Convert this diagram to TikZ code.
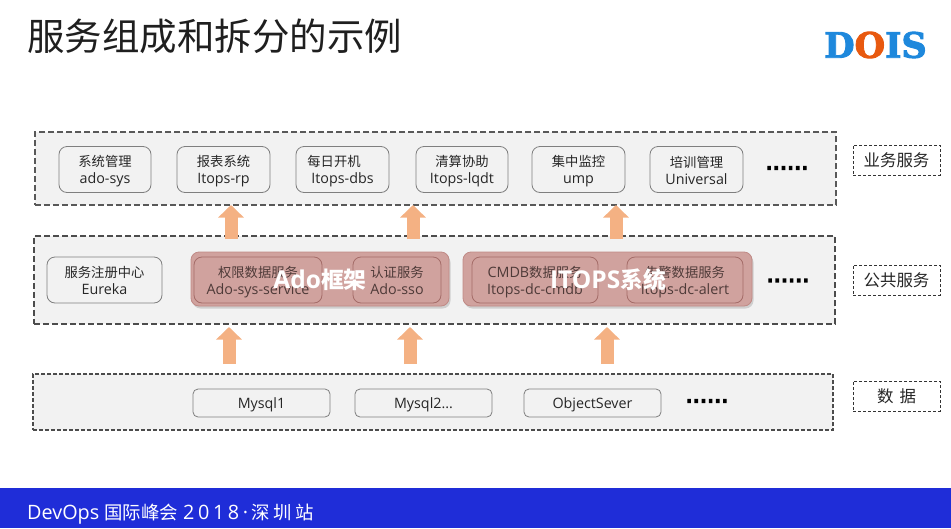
\documentclass[tikz,border=0pt]{standalone}
\usepackage{fontspec}
\setmainfont{Open Sans}
\newfontfamily\cjk[Scale=0.93]{Noto Sans CJK SC}
\newfontfamily\dotsfont[RawFeature={embolden=6}]{DejaVu Sans}
\newfontfamily\logofont[RawFeature={embolden=2.5}]{DejaVu Serif}
\usetikzlibrary{arrows.meta,shadows}
\definecolor{layerfill}{HTML}{F2F2F2}
\definecolor{layerline}{HTML}{595959}
\definecolor{boxline}{HTML}{7F7F7F}
\definecolor{groupfill}{HTML}{D0A29E}
\definecolor{groupline}{HTML}{C08A86}
\definecolor{innerline}{HTML}{A46C68}
\definecolor{innertext}{HTML}{4E3A38}
\definecolor{arrowfill}{HTML}{F4B183}
\definecolor{footerblue}{HTML}{1F2DD8}
\definecolor{logoblue}{HTML}{1E88DC}
\definecolor{logoorange}{HTML}{E8590F}
\newcommand{\svctop}{\rule{0pt}{15pt}}
\tikzset{
  layerbox/.style={draw=layerline, fill=layerfill, line width=1.3pt, dash pattern=on 6pt off 3pt, inner sep=0pt},
  svcbox/.style={draw=boxline, rounded corners=8pt, line width=.8pt, align=center, inner sep=0pt, minimum height=46pt, font=\fontsize{14.3}{17}\selectfont, text=black!85, execute at end node=\rule[-3pt]{0pt}{3pt}},
  datbox/.style={draw=boxline, rounded corners=5pt, line width=.8pt, inner sep=0pt, minimum width=137pt, minimum height=28pt, text height=12pt, text depth=2pt, font=\fontsize{14.3}{17}\selectfont, text=black!85},
  groupbox/.style={fill=groupfill, draw=groupline, rounded corners=8pt, line width=.8pt, inner sep=0pt, minimum height=54pt, drop shadow={shadow xshift=1.5pt, shadow yshift=-2.5pt, opacity=.3}},
  innerbox/.style={svcbox, draw=innerline, text=innertext},
  grouplabel/.style={text=white, font=\fontsize{24.5}{26}\selectfont\bfseries, inner sep=0pt},
  sidebox/.style={draw=black!80, line width=.9pt, dash pattern=on 3pt off 2pt, inner sep=0pt, minimum width=87pt, minimum height=30pt, font=\fontsize{17.7}{20}\selectfont\cjk, text=black!85},
  morelabel/.style={font=\fontsize{22.5}{24}\selectfont\dotsfont, text=black, inner sep=0pt},
  blockarrow/.style={draw=arrowfill, line width=13pt, -{Triangle[width=25pt,length=12.5pt,fill=arrowfill]}},
}
\begin{document}
\begin{tikzpicture}[x=1pt,y=-1pt]
\useasboundingbox (0,0) rectangle (951,528);
% title and logo
\node[anchor=west, inner sep=0pt, text=black!88, font=\fontsize{40.3}{44}\selectfont\cjk] (title) at (27,36) {服务组成和拆分的示例};
\node[anchor=center, inner sep=0pt, font=\fontsize{35}{40}\selectfont\logofont\bfseries, text=logoblue] (logo) at (875.5,45) {D\textcolor{logoorange}{O}IS};
% layers
\node[layerbox, minimum width=801pt, minimum height=73pt] (bizLayer) at (435.5,168.5) {};
\node[layerbox, line width=1.2pt, draw=black!70, minimum width=801pt, minimum height=88pt] (pubLayer) at (434.5,280) {};
\node[layerbox, line width=1.2pt, draw=black!70, dash pattern=on 4pt off 2pt, minimum width=800pt, minimum height=56pt] (dataLayer) at (433,402) {};
% business services
\node[svcbox, minimum width=92pt] (sys) at (105,169.5) {\svctop{\cjk 系统管理}\\ado-sys};
\node[svcbox, minimum width=93pt] (rp) at (223.5,169.5) {\svctop{\cjk 报表系统}\\Itops-rp};
\node[svcbox, minimum width=93pt] (dbs) at (342.5,169.5) {\svctop{\cjk 每日开机}\hspace*{17pt}\\Itops-dbs};
\node[svcbox, minimum width=92pt] (lqdt) at (462,169.5) {\svctop{\cjk 清算协助}\\Itops-lqdt};
\node[svcbox, minimum width=93pt] (ump) at (578.5,169.5) {\svctop{\cjk 集中监控}\\ump};
\node[svcbox, minimum width=93pt] (univ) at (696.5,169.5) {\svctop{\cjk 培训管理}\\Universal};
\node[morelabel] (bizMore) at (787,168) {......};
% public services
\node[svcbox, minimum width=115pt] (eureka) at (104.5,280) {\svctop{\cjk 服务注册中心}\\Eureka};
\node[groupbox, minimum width=258pt] (adoGroup) at (320,279) {};
\node[groupbox, minimum width=289pt] (itopsGroup) at (607.5,279) {};
\node[innerbox, minimum width=128pt] (sysService) at (258,280) {\svctop{\cjk 权限数据服务}\\Ado-sys-service};
\node[innerbox, minimum width=88pt] (sso) at (397,280) {\svctop{\cjk 认证服务}\\Ado-sso};
\node[innerbox, minimum width=126pt] (cmdb) at (535,280) {\svctop CMDB{\cjk 数据服务}\\Itops-dc-cmdb};
\node[innerbox, minimum width=116pt] (alert) at (685,280) {\svctop{\cjk 告警数据服务}\\Itops-dc-alert};
\node[grouplabel] (adoLabel) at (320,280) {Ado{\cjk 框架}};
\node[grouplabel] (itopsLabel) at (608,280) {ITOPS{\cjk 系统}};
\node[morelabel] (pubMore) at (788,280.5) {......};
% data
\node[datbox] (mysqlA) at (261.5,403) {Mysql1};
\node[datbox] (mysqlB) at (423.5,403) {Mysql2...};
\node[datbox] (objSever) at (592.5,403) {ObjectSever};
\node[morelabel] (dataMore) at (707,401) {......};
% side labels
\node[sidebox] (bizSide) at (896.5,160) {业务服务};
\node[sidebox] (pubSide) at (896.5,280) {公共服务};
\node[sidebox] (dataSide) at (896.5,396) {数\hspace{6pt}据};
% arrows
\coordinate (upA) at (231,239);
\coordinate (upAend) at (231,205);
\coordinate (upB) at (413,239);
\coordinate (upBend) at (413,205);
\coordinate (upC) at (616,239);
\coordinate (upCend) at (616,205);
\coordinate (upD) at (229,364);
\coordinate (upDend) at (229,327);
\coordinate (upE) at (410,364);
\coordinate (upEend) at (410,327);
\coordinate (upF) at (607,364);
\coordinate (upFend) at (607,327);
\draw[blockarrow] (upA) -- (upAend);
\draw[blockarrow] (upB) -- (upBend);
\draw[blockarrow] (upC) -- (upCend);
\draw[blockarrow] (upD) -- (upDend);
\draw[blockarrow] (upE) -- (upEend);
\draw[blockarrow] (upF) -- (upFend);
% footer
\node[fill=footerblue, minimum width=951pt, minimum height=40pt, inner sep=0pt, outer sep=0pt] (footer) at (475.5,508) {};
\node[anchor=west, inner sep=0pt, text=white, font=\fontsize{19.8}{22}\selectfont] (footerText) at (27,514) {DevOps {\cjk 国际峰会} 2\hspace{3.6pt}0\hspace{3.6pt}1\hspace{3.6pt}8\hspace{3.6pt}·\hspace{3.6pt}{\cjk 深\hspace{3.6pt}圳\hspace{3.6pt}站}};
\end{tikzpicture}
\end{document}
